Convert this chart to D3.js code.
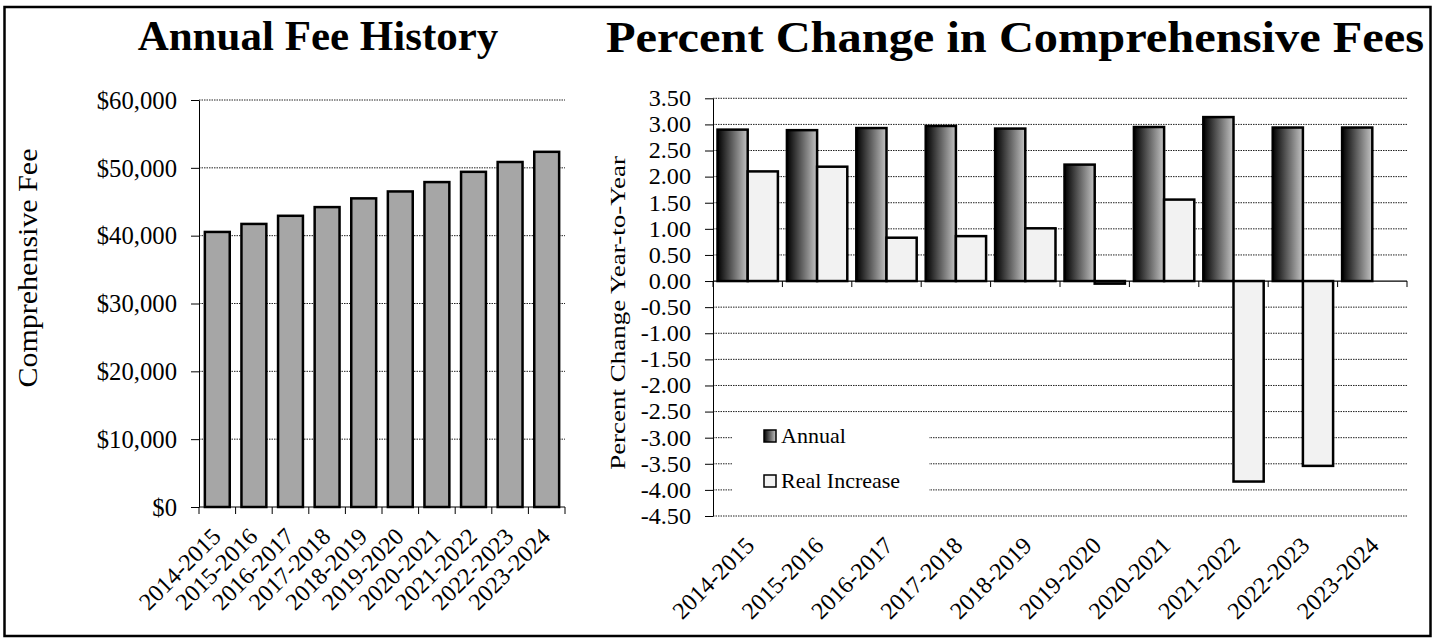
<!DOCTYPE html>
<html><head><meta charset="utf-8">
<script src="https://cdn.jsdelivr.net/npm/d3@7"></script>
<style>
body{margin:0;background:#fff}
svg{display:block}
text{font-family:"Liberation Serif","Times New Roman",serif;fill:#000}
</style>
</head><body>
<svg id="c" width="1437" height="639"></svg>
<script>
// ---- data ----
const years = ["2014-2015","2015-2016","2016-2017","2017-2018","2018-2019","2019-2020","2020-2021","2021-2022","2022-2023","2023-2024"];
const feeValues = [40550, 41730, 42930, 44210, 45500, 46520, 47900, 49410, 50860, 52360];
const feeTicks = [0, 10000, 20000, 30000, 40000, 50000, 60000];
const seriesNames = ["Annual", "Real Increase"];
const annualPct = [2.90, 2.89, 2.93, 2.97, 2.92, 2.23, 2.95, 3.14, 2.94, 2.94];
const realPct = [2.10, 2.19, 0.83, 0.86, 1.01, -0.05, 1.56, -3.84, -3.54, null];
const pctTicks = [3.5, 3.0, 2.5, 2.0, 1.5, 1.0, 0.5, 0.0, -0.5, -1.0, -1.5, -2.0, -2.5, -3.0, -3.5, -4.0, -4.5];
const leftTitle = "Annual Fee History";
const rightTitle = "Percent Change in Comprehensive Fees";
const leftYLabel = "Comprehensive Fee";
const rightYLabel = "Percent Change Year-to-Year";

const svg = d3.select("#c");
const defs = svg.append("defs");
const grad = defs.append("linearGradient").attr("id","gAnnual").attr("x1","0").attr("x2","1").attr("y1","0").attr("y2","0");
grad.append("stop").attr("offset","0%").attr("stop-color","#000");
grad.append("stop").attr("offset","100%").attr("stop-color","#c4c4c4");

function condense(sel, sx){
  sel.each(function(){
    const x = +this.getAttribute("x") || 0, y = +this.getAttribute("y") || 0;
    d3.select(this).attr("transform", `translate(${x},${y}) scale(${sx},1) translate(${-x},${-y})`);
  });
}

// frame
svg.append("rect").attr("x",4.5).attr("y",7).attr("width",1426).attr("height",629)
  .attr("fill","none").attr("stroke","#000").attr("stroke-width",2.5);

// ================= LEFT CHART =================
const L = {x0:199, x1:565, y0:507, y1:100};
const xL = d3.scaleBand().domain(years).range([L.x0, L.x1]).paddingInner(0.32).paddingOuter(0.16);
const yL = d3.scaleLinear().domain([0, 60000]).range([L.y0, L.y1]);

const gL = svg.append("g");
gL.selectAll("line.grid").data(feeTicks.filter(d => d > 0)).join("line")
  .attr("x1", L.x0).attr("x2", L.x1).attr("y1", d => yL(d)).attr("y2", d => yL(d))
  .attr("stroke","#222").attr("stroke-width",1).attr("stroke-dasharray","1.5,1");

gL.selectAll("rect.bar").data(years).join("rect")
  .attr("x", d => xL(d)).attr("width", xL.bandwidth())
  .attr("y", (d,i) => yL(feeValues[i])).attr("height", (d,i) => yL(0) - yL(feeValues[i]))
  .attr("fill","#a6a6a6").attr("stroke","#000").attr("stroke-width",2.5);

const axL = gL.append("g").attr("transform",`translate(${L.x0},0)`)
  .call(d3.axisLeft(yL).tickValues(feeTicks).tickSize(8).tickSizeOuter(0).tickPadding(14)
    .tickFormat(d => "$" + d3.format(",")(d)));
axL.select(".domain").attr("stroke","#000");
axL.selectAll("text").attr("font-size","26px");
condense(axL.selectAll("text"), 0.95);

const bndL = years.map(d => xL(d) - xL.step()*xL.paddingInner()/2).concat([L.x1]);
gL.append("line").attr("x1",L.x0).attr("x2",L.x1).attr("y1",L.y0).attr("y2",L.y0).attr("stroke","#000").attr("stroke-width",1.2);
gL.selectAll("line.tk").data(bndL).join("line").attr("class","tk")
  .attr("x1",d=>d).attr("x2",d=>d).attr("y1",L.y0).attr("y2",L.y0+7).attr("stroke","#000");
gL.selectAll("text.xl").data(years).join("text").attr("class","xl")
  .attr("transform", d => `translate(${xL(d)+xL.bandwidth()/2+5},${L.y0+31}) rotate(-45)`)
  .attr("text-anchor","end").attr("font-size","24px").text(d => d);

svg.append("text").attr("x",318).attr("y",50).attr("text-anchor","middle")
  .attr("font-size","43px").attr("font-weight","bold").text(leftTitle);
svg.append("text").attr("transform","translate(37,268) rotate(-90) scale(1,0.9)")
  .attr("text-anchor","middle").attr("font-size","30px").text(leftYLabel);

// ================= RIGHT CHART =================
const R = {x0:713, x1:1407, y0:516, y1:98.3};
const xR = d3.scaleBand().domain(years).range([R.x0, R.x1]).paddingInner(0.13).paddingOuter(0.065);
const xS = d3.scaleBand().domain(seriesNames).range([0, xR.bandwidth()]);
const yR = d3.scaleLinear().domain([-4.5, 3.5]).range([R.y0, R.y1]);
const gR = svg.append("g");

gR.selectAll("line.grid").data(pctTicks.filter(d => d !== 0)).join("line")
  .attr("x1", R.x0).attr("x2", R.x1).attr("y1", d => yR(d)).attr("y2", d => yR(d))
  .attr("stroke","#222").attr("stroke-width",1).attr("stroke-dasharray","1.5,1");

const rows = years.map((y,i) => ({year:y, vals:[{s:seriesNames[0], v:annualPct[i]}, {s:seriesNames[1], v:realPct[i]}]}));
const grp = gR.selectAll("g.grp").data(rows).join("g").attr("transform", d => `translate(${xR(d.year)},0)`);
grp.selectAll("rect").data(d => d.vals.filter(e => e.v !== null)).join("rect")
  .attr("x", d => xS(d.s)).attr("width", xS.bandwidth())
  .attr("y", d => yR(Math.max(0, d.v))).attr("height", d => Math.abs(yR(d.v) - yR(0)))
  .attr("fill", d => d.s === "Annual" ? "url(#gAnnual)" : "#f2f2f2")
  .attr("stroke","#000").attr("stroke-width",2.5);

const bndR = years.map(d => xR(d) - xR.step()*xR.paddingInner()/2).concat([R.x1]);
gR.append("line").attr("x1",R.x0).attr("x2",R.x1).attr("y1",yR(0)).attr("y2",yR(0)).attr("stroke","#000").attr("stroke-width",1.2);
gR.selectAll("line.tk").data(bndR).join("line").attr("class","tk")
  .attr("x1",d=>d).attr("x2",d=>d).attr("y1",yR(0)).attr("y2",yR(0)+6).attr("stroke","#000");

const axR = gR.append("g").attr("transform",`translate(${R.x0},0)`)
  .call(d3.axisLeft(yR).tickValues(pctTicks).tickSize(8).tickSizeOuter(0).tickPadding(14)
    .tickFormat(d => d.toFixed(2)));
axR.select(".domain").attr("stroke","#000");
axR.selectAll("text").attr("font-size","23px");
condense(axR.selectAll("text"), 1.05);

gR.selectAll("text.xl").data(years).join("text").attr("class","xl")
  .attr("transform", d => `translate(${xR(d)+xR.bandwidth()/2+8},${R.y0+31}) rotate(-45)`)
  .attr("text-anchor","end").attr("font-size","24px").text(d => d);

svg.append("text").attr("transform","translate(1015,52) scale(1.1,1)").attr("text-anchor","middle")
  .attr("font-size","44px").attr("font-weight","bold").text(rightTitle);
svg.append("text").attr("transform","translate(625,313) rotate(-90) scale(1,0.8)")
  .attr("text-anchor","middle").attr("font-size","27px").text(rightYLabel);

// legend
const lg = svg.append("g");
lg.append("rect").attr("x",732).attr("y",416).attr("width",197).attr("height",88).attr("fill","#fff");
const li = lg.selectAll("g.li").data(seriesNames).join("g").attr("transform",(d,i)=>`translate(764,${430+i*45})`);
li.append("rect").attr("width",12).attr("height",12)
  .attr("fill", d => d === "Annual" ? "url(#gAnnual)" : "#f2f2f2").attr("stroke","#000").attr("stroke-width",1.5);
li.append("text").attr("x",17).attr("y",12.5).attr("font-size","22px").text(d => d);
</script>
</body></html>
